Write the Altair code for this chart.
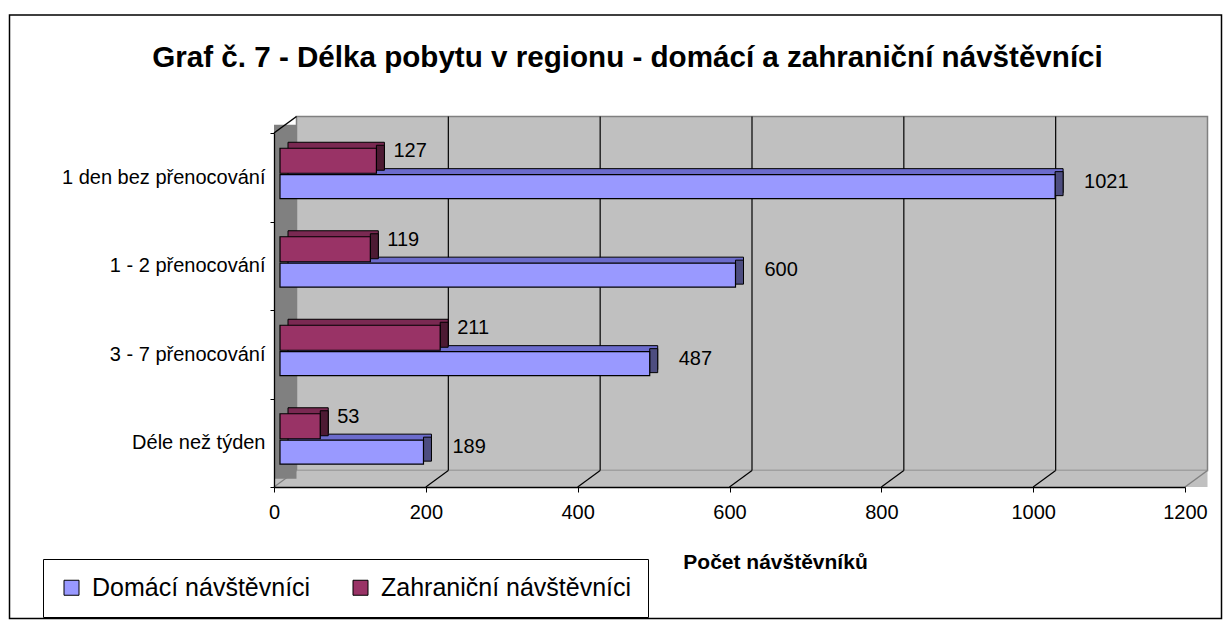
import altair as alt
import pandas as pd

# ---- data ----
categories = ["1 den bez přenocování", "1 - 2 přenocování", "3 - 7 přenocování", "Déle než týden"]
series_names = ["Domácí návštěvníci", "Zahraniční návštěvníci"]
domaci = [1021, 600, 487, 189]
zahranicni = [127, 119, 211, 53]
x_ticks = [0, 200, 400, 600, 800, 1000, 1200]

TITLE = "Graf č. 7 - Délka pobytu v regionu - domácí a zahraniční návštěvníci"
X_TITLE = "Počet návštěvníků"

# ---- layout / style constants ----
FONT = "Liberation Sans"
W, H = 911, 354
PAD_L, PAD_T, PAD_R, PAD_B = 266, 125, 38, 133
DX, DY = 22.5, 16.5          # 3D depth of walls (px)
BX = 6                       # bars sit slightly inside the depth
BDX, BDY = 8, 6              # 3D depth of bars (px)

rows = []
for c, d, z in zip(categories, domaci, zahranicni):
    rows.append({"kat": c, "serie": series_names[0], "pocet": d})
    rows.append({"kat": c, "serie": series_names[1], "pocet": z})
df = pd.DataFrame(rows)
dom = df[df.serie == series_names[0]]
zah = df[df.serie == series_names[1]]
grid = pd.DataFrame({"v": x_ticks[1:-1]})
one = pd.DataFrame({"v": [x_ticks[0]]})

x_scale = alt.Scale(domain=[x_ticks[0], x_ticks[-1]], nice=False)
y_scale = alt.Scale(domain=categories, paddingInner=0, paddingOuter=0)
color_scale = alt.Scale(domain=series_names, range=["#9999FF", "#993366"])

x_axis = alt.Axis(values=x_ticks, format="d", grid=False, zindex=1, labelFlush=False,
                  domainColor="black", domainWidth=1.3, tickColor="black", tickSize=5,
                  labelFont=FONT, labelFontSize=20, labelColor="black", labelPadding=10,
                  title=X_TITLE, titleFont=FONT, titleFontSize=21, titleFontWeight="bold",
                  titleColor="black", titleX=501, titleY=81, titleAlign="center",
                  titleBaseline="alphabetic")
y_axis = alt.Axis(title=None, grid=False, zindex=1, domainColor="black", domainWidth=1.3,
                  tickColor="black", tickSize=4, tickBand="extent", labelFont=FONT,
                  labelFontSize=20, labelColor="black", labelPadding=5, labelLimit=400)


def X(field="pocet:Q"):
    return alt.X(field, scale=x_scale, axis=x_axis, title=X_TITLE)


def XD(v):
    return alt.X(datum=v, type="quantitative", scale=x_scale, axis=x_axis, title=X_TITLE)


def Y():
    return alt.Y("kat:N", scale=y_scale, axis=y_axis, sort=categories, title=None)


# ---- 3D walls ----
back_wall = alt.Chart(one).mark_rect(
    fill="#C0C0C0", stroke="#808080", strokeWidth=1.5,
    xOffset=DX, x2Offset=DX, yOffset=-DY, y2Offset=-DY
).encode(x=XD(x_ticks[0]), x2=alt.X2(datum=x_ticks[-1]), y=alt.value(0), y2=alt.value("height"))

floor = alt.Chart(one).mark_rect(fill="#C0C0C0", x2Offset=DX, yOffset=-DY).encode(
    x=XD(x_ticks[0]), x2=alt.X2(datum=x_ticks[-1]), y=alt.value("height"), y2=alt.value("height"))

side_wall = alt.Chart(one).mark_rect(
    fill="#808080", x2Offset=DX, yOffset=-DY / 2, y2Offset=-DY / 2
).encode(x=XD(x_ticks[0]), x2=alt.X2(datum=x_ticks[0]), y=alt.value(0), y2=alt.value("height"))

wall_grid = alt.Chart(grid).mark_rule(
    color="black", strokeWidth=1.2, xOffset=DX, yOffset=-DY, y2Offset=-DY
).encode(x=X("v:Q"), y=alt.value(0), y2=alt.value("height"))

floor_grid = alt.Chart(grid).mark_rule(
    color="black", strokeWidth=1.2, x2Offset=DX, y2Offset=-DY
).encode(x=X("v:Q"), x2="v:Q", y=alt.value("height"), y2=alt.value("height"))

edge_top = alt.Chart(one).mark_rule(color="black", strokeWidth=1.5, x2Offset=DX, y2Offset=-DY).encode(
    x=XD(x_ticks[0]), x2=alt.X2(datum=x_ticks[0]), y=alt.value(0), y2=alt.value(0))
edge_bottom = alt.Chart(one).mark_rule(color="#808080", strokeWidth=1.2, x2Offset=DX, y2Offset=-DY).encode(
    x=XD(x_ticks[0]), x2=alt.X2(datum=x_ticks[0]), y=alt.value("height"), y2=alt.value("height"))
edge_right = alt.Chart(one).mark_rule(color="#808080", strokeWidth=1.5, x2Offset=DX, y2Offset=-DY).encode(
    x=XD(x_ticks[-1]), x2=alt.X2(datum=x_ticks[-1]), y=alt.value("height"), y2=alt.value("height"))


# ---- 3D bars ----
def bar_layers(sub, top_color, side_color, center, size):
    base = alt.Chart(sub)
    depth = base.mark_bar(
        size=size, color=top_color, stroke="black", strokeWidth=1,
        xOffset=BX + BDX, x2Offset=BX + BDX, yOffset=center - BDY, y2Offset=center - BDY
    ).encode(x=X(), y=Y())
    side = base.mark_bar(
        size=size, color=side_color, stroke="black", strokeWidth=1,
        xOffset=BX, x2Offset=BX + BDX, yOffset=center - BDY / 2, y2Offset=center - BDY / 2
    ).encode(x=X(), x2="pocet:Q", y=Y())
    front = base.mark_bar(
        size=size, stroke="black", strokeWidth=1.2, opacity=1,
        xOffset=BX, x2Offset=BX, yOffset=center, y2Offset=center
    ).encode(
        x=X(), y=Y(),
        color=alt.Color("serie:N", scale=color_scale, legend=alt.Legend(
            title=None, orient="none", legendX=-231, legendY=426, direction="horizontal",
            symbolType="square", symbolSize=225, symbolStrokeColor="black", symbolStrokeWidth=1,
            symbolOpacity=1, labelFont=FONT, labelFontSize=25, labelColor="black", labelOffset=8,
            labelLimit=400, columnPadding=37, padding=16, strokeColor="black", fillColor="white"))
    )
    return depth, side, front


def label_layer(sub, dx, dy):
    return alt.Chart(sub).mark_text(
        align="left", baseline="middle", dx=dx, dy=dy, font=FONT, fontSize=20, color="black"
    ).encode(x=X(), y=Y(), text="pocet:Q")


d_depth, d_side, d_front = bar_layers(dom, "#6B6BCC", "#4D4D80", 9.4, 24)
z_depth, z_side, z_front = bar_layers(zah, "#7A2952", "#4D1A33", -16.5, 25)

frame = alt.Chart(one).mark_rect(fillOpacity=0, stroke="black", strokeWidth=1.5).encode(
    x=alt.value(1.5 - PAD_L), x2=alt.value(W + PAD_R - 1.5),
    y=alt.value(7 - PAD_T), y2=alt.value(H + PAD_B - 1.5))

chart = alt.layer(
    back_wall, floor, side_wall, wall_grid, floor_grid, edge_top, edge_bottom, edge_right,
    d_depth, d_side, z_depth, z_side, z_front, d_front,
    label_layer(zah, 23, -26), label_layer(dom, 35, 4.5),
    frame,
).properties(
    width=W, height=H,
    title=alt.TitleParams(TITLE, font=FONT, fontSize=29.6, fontWeight="bold", color="black",
                          anchor="start", dx=143.5, baseline="alphabetic", dy=86),
    autosize=alt.AutoSizeParams(type="none"),
    padding={"left": PAD_L, "top": PAD_T, "right": PAD_R, "bottom": PAD_B},
).configure_view(strokeWidth=0).configure(background="white")

chart.save("out.html", embed_options={"renderer": "svg", "actions": False})
